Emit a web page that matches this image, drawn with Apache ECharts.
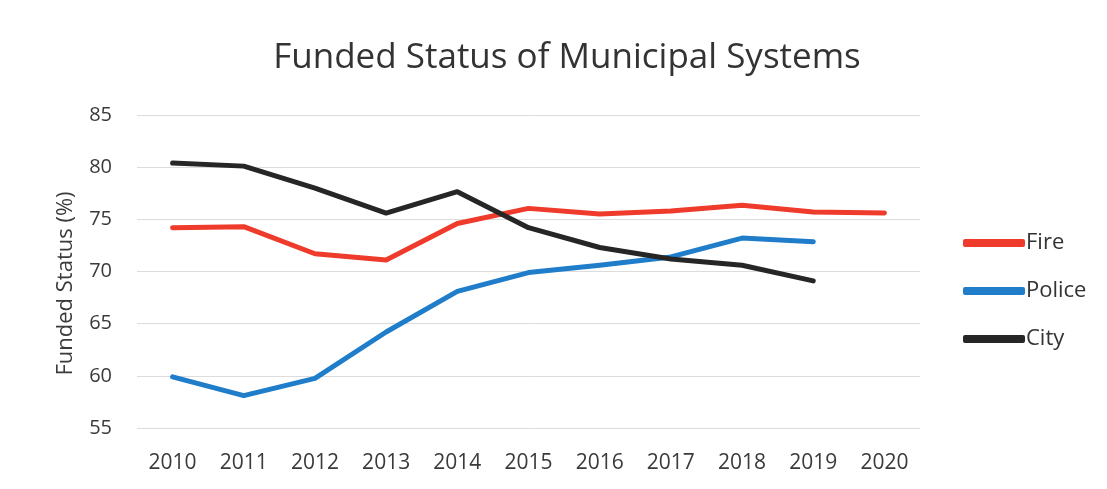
<!DOCTYPE html>
<html><head><meta charset="utf-8">
<script src="https://cdn.jsdelivr.net/npm/echarts@6/dist/echarts.min.js"></script>
<style>html,body{margin:0;padding:0;background:#fff}#c{width:1107px;height:489px}</style>
</head><body><div id="c"></div>
<script>
const years = ['2010','2011','2012','2013','2014','2015','2016','2017','2018','2019','2020'];
const fire = [74.2, 74.3, 71.7, 71.1, 74.6, 76.05, 75.5, 75.8, 76.35, 75.7, 75.6];
const police = [59.9, 58.1, 59.75, 64.2, 68.1, 69.9, 70.6, 71.4, 73.2, 72.85, null];
const city = [80.4, 80.1, 78.0, 75.6, 77.65, 74.2, 72.3, 71.2, 70.6, 69.1, null];
const yTicks = {min: 55, max: 85, interval: 5};

const font = 'Open Sans';
const chart = echarts.init(document.getElementById('c'), null, {renderer: 'canvas'});
const mk = (name, data, color) => ({
  name, type: 'line', data, symbol: 'none', smooth: false,
  lineStyle: {width: 5, color, cap: 'round', join: 'round'},
  itemStyle: {color}, connectNulls: false
});
chart.setOption({
  animation: false,
  backgroundColor: '#fff',
  title: {
    text: 'Funded Status of Municipal Systems', left: 562, top: 36, textAlign: 'center',
    textStyle: {fontFamily: font, fontSize: 35, fontWeight: 'normal', color: '#333'}
  },
  legend: {
    orient: 'vertical', left: 958, top: 227, itemGap: 26, itemWidth: 62, itemHeight: 8,
    icon: 'roundRect', textStyle: {fontFamily: font, fontSize: 22, color: '#333', padding: [0,0,0,-4]},
    data: ['Fire', 'Police', 'City']
  },
  grid: {left: 137, right: 187, top: 115, bottom: 61, containLabel: false},
  xAxis: {
    type: 'category', data: years, boundaryGap: true,
    axisLine: {show: false}, axisTick: {show: false},
    axisLabel: {fontFamily: font, fontSize: 21, color: '#3a3a3a', margin: 25}
  },
  yAxis: {
    type: 'value', min: yTicks.min, max: yTicks.max, interval: yTicks.interval,
    name: 'Funded Status (%)', nameLocation: 'middle', nameGap: 60,
    nameTextStyle: {fontFamily: font, fontSize: 22, color: '#3a3a3a', padding: [0, 24, 0, 0]},
    axisLine: {show: false}, axisTick: {show: false},
    axisLabel: {fontFamily: font, fontSize: 20, color: '#3a3a3a', margin: 25},
    splitLine: {lineStyle: {color: '#dcdcdc', width: 1}}
  },
  series: [mk('Fire', fire, '#ee3b2b'), mk('Police', police, '#1f7dc9'), mk('City', city, '#262626')]
});
</script></body></html>
